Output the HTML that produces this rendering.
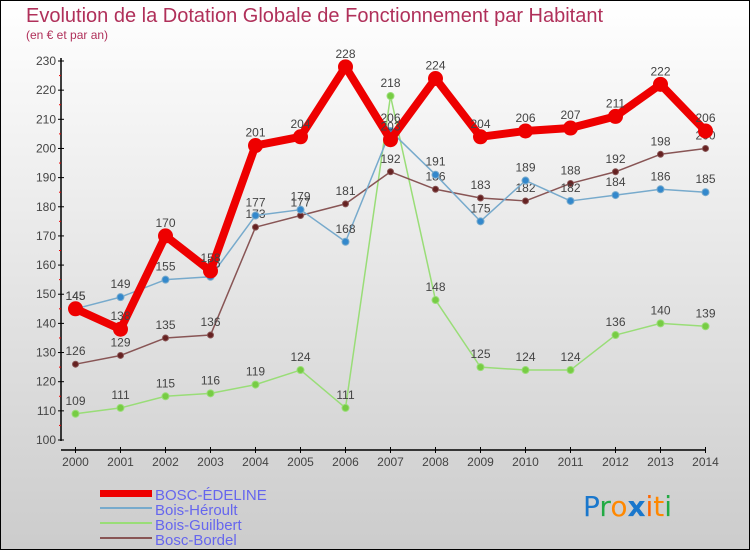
<!DOCTYPE html>
<html><head><meta charset="utf-8"><style>
body{margin:0;width:750px;height:550px;overflow:hidden}
svg{display:block;font-family:"Liberation Sans",sans-serif}
</style></head><body>
<svg id="c" width="750" height="550">
<defs><linearGradient id="bg" x1="0" y1="0" x2="0" y2="1"><stop offset="0" stop-color="#ffffff"/><stop offset="1" stop-color="#cccccc"/></linearGradient></defs>
<rect x="0.5" y="0.5" width="749" height="549" fill="url(#bg)" stroke="#000"/>
<text x="26" y="22" font-size="20" fill="#b0305a">Evolution de la Dotation Globale de Fonctionnement par Habitant</text>
<text x="26" y="39" font-size="12" fill="#b0305a">(en € et par an)</text>
<g id="axes"></g><g id="series"></g>
<g>
<rect x="100" y="490" width="52" height="7" fill="#ee0000"/>
<text x="155" y="500" font-size="15" fill="#6666ee">BOSC-ÉDELINE</text>
<rect x="100" y="507" width="52" height="2" fill="#77aacc"/>
<text x="155" y="515" font-size="15" fill="#6666ee">Bois-Héroult</text>
<rect x="100" y="522" width="52" height="2" fill="#99dd77"/>
<text x="155" y="530" font-size="15" fill="#6666ee">Bois-Guilbert</text>
<rect x="100" y="537" width="52" height="2" fill="#885555"/>
<text x="155" y="545" font-size="15" fill="#6666ee">Bosc-Bordel</text>
</g>
<g font-size="28" font-family="'DejaVu Sans',sans-serif">
<text x="583" y="516"><tspan fill="#1a77cc">P</tspan><tspan fill="#22aa44">r</tspan><tspan fill="#ff8800">o</tspan><tspan fill="#1a77cc" font-weight="bold">x</tspan><tspan fill="#ff6600">i</tspan><tspan fill="#ff8800">t</tspan><tspan fill="#22aa44">i</tspan></text>
</g>
</svg>
<script>
const years=[2000,2001,2002,2003,2004,2005,2006,2007,2008,2009,2010,2011,2012,2013,2014];
const boscEdeline=[145,138,170,158,201,204,228,203,224,204,206,207,211,222,206];
const boisHeroult=[145,149,155,156,177,179,168,206,191,175,189,182,184,186,185];
const boisGuilbert=[109,111,115,116,119,124,111,218,148,125,124,124,136,140,139];
const boscBordel=[126,129,135,136,173,177,181,192,186,183,182,188,192,198,200];
const yTicks=[100,110,120,130,140,150,160,170,180,190,200,210,220,230];
const NS="http://www.w3.org/2000/svg";
const xs=i=>75.5+i*45;
const ys=v=>440-(v-100)*(379/130);
function mk(tag,attrs,parent){const e=document.createElementNS(NS,tag);for(const k in attrs)e.setAttribute(k,attrs[k]);parent.appendChild(e);return e;}
const ax=document.getElementById('axes');
let a=mk('line',{x1:61,y1:58,x2:61,y2:441,stroke:'#000','stroke-width':1.5},ax);


a=mk('line',{x1:61,y1:450,x2:706,y2:450,stroke:'#000','stroke-width':1.5},ax);


yTicks.forEach((t,i)=>{
 const y=ys(t);
 mk('line',{x1:58,y1:y,x2:64,y2:y,stroke:'#000'},ax);
 if(i<yTicks.length-1) mk('line',{x1:59,y1:ys(t+5),x2:61,y2:ys(t+5),stroke:'#ee0000'},ax);
 const tx=mk('text',{x:56,y:y+4,'font-size':12,fill:'#444','text-anchor':'end'},ax);
 tx.textContent=t;
 
 
});
years.forEach((yr,i)=>{
 const x=xs(i);
 mk('line',{x1:x,y1:447,x2:x,y2:453,stroke:'#000'},ax);
 const tx=mk('text',{x:x,y:466,'font-size':12,fill:'#444','text-anchor':'middle'},ax);
 tx.textContent=yr;
 
 
});
const sg=document.getElementById('series');
function draw(vals,color,w,r,name,mcolor){
 const g=mk('g',{},sg);
 
 
 const pl=mk('polyline',{points:vals.map((v,i)=>xs(i)+','+ys(v)).join(' '),fill:'none',stroke:color,'stroke-width':w,'stroke-linejoin':'round'},g);
 
 
 vals.forEach((v,i)=>{
  const c=mk('circle',{cx:xs(i),cy:ys(v),r:r,fill:mcolor,stroke:color,'stroke-width':1},g);
  
  
  const t=mk('text',{x:xs(i),y:ys(v)-9,'font-size':12,fill:'#444','text-anchor':'middle'},g);
  t.textContent=v;
  
  
 });
}
draw(boisGuilbert,'#99dd77',1.5,3.5,'bois-guilbert','#77cc44');
draw(boscBordel,'#885555',1.5,3,'bosc-bordel','#662222');
draw(boisHeroult,'#77aacc',1.5,3.5,'bois-heroult','#3388cc');
draw(boscEdeline,'#ee0000',8,7,'bosc-edeline','#ee0000');
</script>
</body></html>
